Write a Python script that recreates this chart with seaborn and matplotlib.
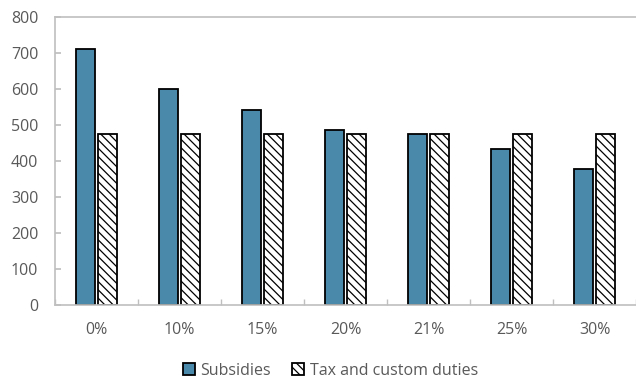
import matplotlib
matplotlib.use("Agg")
import matplotlib.pyplot as plt
import seaborn as sns
import pandas as pd
import numpy as np

categories = ["0%", "10%", "15%", "20%", "21%", "25%", "30%"]
subsidies = [711, 600, 543, 486, 475, 434, 379]
tax_custom = [475, 475, 475, 475, 475, 475, 475]
series_names = ["Subsidies", "Tax and custom duties"]

df = pd.DataFrame({
    "cat": categories * 2,
    "value": subsidies + tax_custom,
    "series": [series_names[0]] * len(categories) + [series_names[1]] * len(categories),
})

sns.set_theme(style="white")
plt.rcParams["font.family"] = ["Open Sans", "DejaVu Sans"]
plt.rcParams["hatch.linewidth"] = 0.9

fig = plt.figure(figsize=(6.36, 3.81), dpi=100)
ax = fig.add_axes([55 / 636, 1 - 305 / 381, 1 - 55 / 636, (305 - 17) / 381])

blue = "#4A89AA"
hatch = "\\\\\\\\"
sns.barplot(data=df, x="cat", y="value", hue="series", order=categories,
            hue_order=series_names, palette=[blue, "white"], saturation=1,
            width=0.54, gap=0.16, edgecolor="black", linewidth=1.3, ax=ax, legend=True)

n = len(categories)
for i, p in enumerate(ax.patches[:2 * n]):
    if i >= n:
        p.set_hatch(hatch)
        p.set_facecolor("white")
        p.set_edgecolor("black")

ax.set_ylim(0, 800)
ax.set_xlim(-0.5, n - 0.5)
ax.set_yticks(np.arange(0, 801, 100))
ax.set_xlabel("")
ax.set_ylabel("")

grey = "#BFBFBF"
text_col = "#595959"
for s in ["left", "bottom", "top"]:
    ax.spines[s].set_visible(True)
    ax.spines[s].set_color(grey)
    ax.spines[s].set_linewidth(1.2)
ax.spines["right"].set_visible(False)

ax.tick_params(axis="y", direction="in", length=4, color=grey, labelsize=11.5,
               labelcolor=text_col, pad=12, left=True)
ax.tick_params(axis="x", which="major", length=0, labelsize=11.5, labelcolor=text_col, pad=12)
ax.set_xticks(np.arange(-0.5, n, 1.0), minor=True)
ax.tick_params(axis="x", which="minor", direction="in", length=4, color=grey, bottom=True)

leg = ax.legend(loc="upper center", bbox_to_anchor=(0.474, -0.15), ncol=2, frameon=False,
                fontsize=11.5, handlelength=0.75, handleheight=0.75, handletextpad=0.35,
                columnspacing=1.3, labelcolor=text_col)
for h in leg.legend_handles:
    h.set_edgecolor("black")
    h.set_linewidth(1.3)
leg.legend_handles[1].set_hatch(hatch)

fig.savefig("out.png", dpi=100)
